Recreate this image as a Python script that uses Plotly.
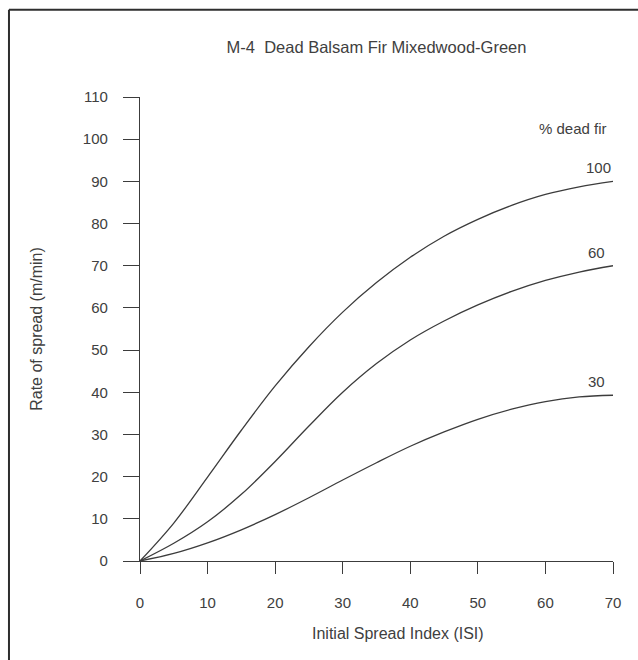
import plotly.graph_objects as go

# Initial Spread Index (ISI)
isi = [0, 5, 10, 15, 20, 25, 30, 35, 40, 45, 50, 55, 60, 65, 70]

# Rate of spread (m/min) for each % dead fir
ros_100 = [0, 9.0, 19.9, 31.0, 41.5, 50.8, 59.0, 66.0, 72.0, 77.0, 81.0, 84.3, 86.9, 88.7, 90.0]
ros_60 = [0, 4.2, 9.3, 15.8, 23.6, 32.0, 40.0, 46.8, 52.4, 56.9, 60.7, 63.9, 66.5, 68.5, 70.0]
ros_30 = [0, 1.8, 4.3, 7.4, 11.0, 15.0, 19.2, 23.3, 27.2, 30.6, 33.6, 36.0, 37.8, 38.9, 39.3]

series_labels = ["100", "60", "30"]
series_values = [ros_100, ros_60, ros_30]

x_ticks = [0, 10, 20, 30, 40, 50, 60, 70]
y_ticks = [0, 10, 20, 30, 40, 50, 60, 70, 80, 90, 100, 110]

TEXT = "#404040"
LINE = "#3c3c3c"
FONT = "Liberation Sans, Arial, Helvetica, sans-serif"
label_xshift = {"100": 0, "60": -6, "30": -6}

fig = go.Figure()
for lab, vals in zip(series_labels, series_values):
    fig.add_trace(go.Scatter(
        x=isi, y=vals, mode="lines",
        line=dict(color=LINE, width=1.3, shape="spline", smoothing=1.0),
        name=lab, showlegend=False, hoverinfo="x+y",
    ))
    fig.add_annotation(
        x=isi[-1], y=vals[-1], text=lab, showarrow=False,
        xanchor="right", yanchor="bottom", yshift=3, xshift=label_xshift[lab],
        font=dict(size=15, color=TEXT, family=FONT),
    )

fig.add_annotation(
    x=isi[-1], y=102.6, text="% dead fir", showarrow=False,
    xanchor="right", yanchor="middle", xshift=-4,
    font=dict(size=15, color=TEXT, family=FONT),
)

# x-axis title (placed slightly right of centre, as in the original)
fig.add_annotation(
    x=0.545, y=-0.157, xref="paper", yref="paper",
    text="Initial Spread Index (ISI)", showarrow=False,
    xanchor="center", yanchor="middle",
    font=dict(size=16, color=TEXT, family=FONT),
)

# page frame (top and left rules)
fig.add_shape(type="line", xref="paper", yref="paper",
              x0=-0.277, x1=1.06, y0=1.188, y1=1.188,
              line=dict(color="#2e2e2e", width=2))
fig.add_shape(type="line", xref="paper", yref="paper",
              x0=-0.277, x1=-0.277, y0=1.188, y1=-0.22,
              line=dict(color="#2e2e2e", width=2))

fig.update_layout(
    width=638, height=660,
    margin=dict(l=140, r=25, t=97, b=99),
    paper_bgcolor="white", plot_bgcolor="white",
    font=dict(family=FONT, color=TEXT, size=15),
    title=dict(text="M-4  Dead Balsam Fir Mixedwood-Green",
               x=0.5, xref="paper", xanchor="center",
               y=1 - 47 / 660, yref="container", yanchor="middle",
               font=dict(size=16.5, color=TEXT, family=FONT)),
    xaxis=dict(
        range=[0, 70], tickvals=x_ticks, ticktext=[str(v) for v in x_ticks],
        showgrid=False, zeroline=False, showline=True,
        linecolor=LINE, linewidth=1.3,
        ticks="outside", ticklen=12, tickwidth=1.3, tickcolor=LINE,
        ticklabelstandoff=16,
        tickfont=dict(size=15, color=TEXT),
    ),
    yaxis=dict(
        range=[0, 110], tickvals=y_ticks, ticktext=[str(v) for v in y_ticks],
        showgrid=False, zeroline=False, showline=True,
        linecolor=LINE, linewidth=1.3,
        ticks="outside", ticklen=16, tickwidth=1.3, tickcolor=LINE,
        ticklabelstandoff=12,
        tickfont=dict(size=15, color=TEXT),
        title=dict(text="Rate of spread (m/min)", standoff=36,
                   font=dict(size=16, color=TEXT)),
    ),
)

fig.write_html("out.html")
